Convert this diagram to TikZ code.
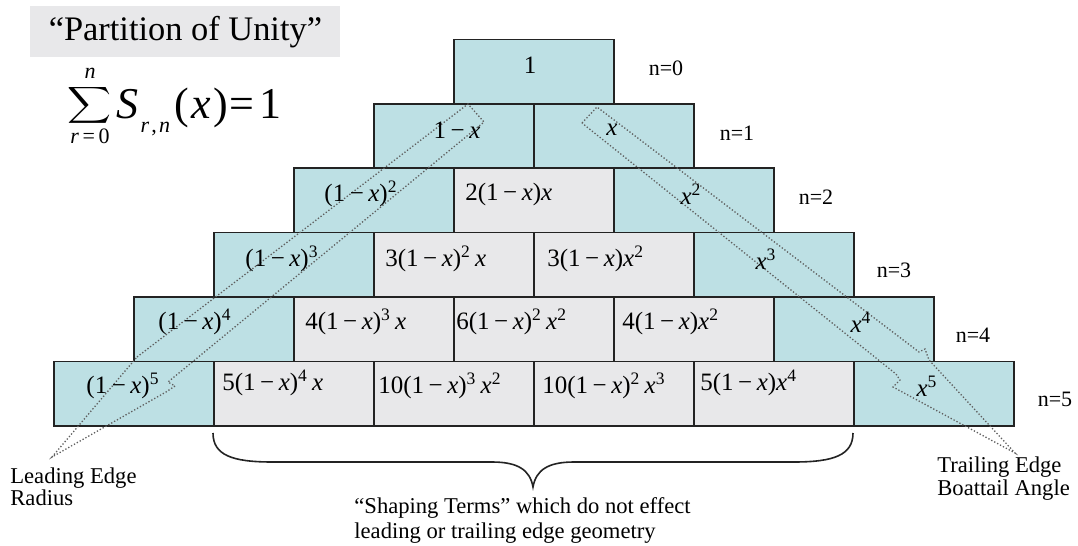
\documentclass[tikz,border=0pt]{standalone}
\usepackage{fontspec}
\setmainfont{Liberation Serif}
\usepackage{graphicx}
\definecolor{tealfill}{RGB}{189,224,228}
\definecolor{greyfill}{RGB}{232,232,234}
\definecolor{edgecol}{RGB}{35,35,35}
\definecolor{dotcol}{RGB}{95,95,95}
\newcommand{\vx}{\textit{x}}
\newcommand{\mn}{\hspace{0.18em}−\hspace{0.18em}}
\newcommand{\sps}[1]{\textsuperscript{#1}}
\begin{document}
\begin{tikzpicture}[x=0.5pt,y=-0.5pt,
  cell/.style={draw=edgecol,line width=0.8pt,minimum width=80pt,minimum height=32.2pt,inner sep=0pt,anchor=north west},
  tcell/.style={cell,fill=tealfill},
  gcell/.style={cell,fill=greyfill},
  term/.style={font=\fontsize{12.5}{14}\selectfont,inner sep=0pt},
  gterm/.style={term,anchor=west},
  nlab/.style={font=\fontsize{11}{13}\selectfont,inner sep=0pt},
  lab/.style={font=\fontsize{11.3}{13}\selectfont,anchor=base west,inner sep=0pt},
  dotline/.style={draw=dotcol,densely dotted,line width=0.65pt}]
\useasboundingbox (0,0) rectangle (1078,546);

% title and formula
\node[fill=greyfill,minimum width=155pt,minimum height=25.5pt,anchor=north west,inner sep=0pt,
      font=\fontsize{17.2}{20}\selectfont] (title) at (30,6) {“Partition of Unity”};
\node[inner sep=0pt] (sig) at (90,105.5) {\resizebox*{22pt}{20.5pt}{$\displaystyle\sum$}};
\node[inner sep=0pt,font=\fontsize{11}{12}\selectfont\itshape] (supn) at (90,73) {n};
\node[inner sep=0pt,font=\fontsize{11}{12}\selectfont] (subr) at (90,136) {\textit{r}\,=\,0};
\node[inner sep=0pt,anchor=base west,font=\fontsize{22}{24}\selectfont] (sbody) at (116,119)
  {\textit{S}\hspace{0.05em}\raisebox{-0.3em}{\fontsize{11}{12}\selectfont\textit{r}\hspace{0.1em},\hspace{0.1em}\textit{n}}\hspace{0.1em}(\hspace{0.05em}\textit{x}\hspace{0.05em})\hspace{0.05em}=\hspace{0.1em}1};

% row 0
\node[tcell] (b00) at (453,38.5) {};
% row 1
\node[tcell] (b10) at (373,102.9) {};
\node[tcell] (b11) at (533,102.9) {};
% row 2
\node[tcell] (b20) at (293,167.3) {};
\node[gcell] (b21) at (453,167.3) {};
\node[tcell] (b22) at (613,167.3) {};
% row 3
\node[tcell] (b30) at (213,231.7) {};
\node[gcell] (b31) at (373,231.7) {};
\node[gcell] (b32) at (533,231.7) {};
\node[tcell] (b33) at (693,231.7) {};
% row 4
\node[tcell] (b40) at (133,296.1) {};
\node[gcell] (b41) at (293,296.1) {};
\node[gcell] (b42) at (453,296.1) {};
\node[gcell] (b43) at (613,296.1) {};
\node[tcell] (b44) at (773,296.1) {};
% row 5
\node[tcell] (b50) at (53,360.5) {};
\node[gcell] (b51) at (213,360.5) {};
\node[gcell] (b52) at (373,360.5) {};
\node[gcell] (b53) at (533,360.5) {};
\node[gcell] (b54) at (693,360.5) {};
\node[tcell] (b55) at (853,360.5) {};

% dotted edge outlines
\draw[dotline] (137,357) -- (468,104) -- (484,122) -- (168,382) -- (175,386) -- (166,392) -- (52,457) -- cycle;
\draw[dotline] (582,123) -- (597,107) -- (919,352) -- (925,349) -- (929,360) -- (1015,453) -- (893,387) -- (900,380) -- (896,374) -- cycle;

% terms
\node[term] (t00) at (530,65) {1};
\node[term] (t10) at (457,130) {1\mn\vx};
\node[term] (t11) at (612,130) {\vx};
\node[term] (t20) at (361,194) {(1\mn\vx)\sps{2}};
\node[gterm] (t21) at (465,194) {2(1\mn\vx)\vx};
\node[term] (t22) at (691,194) {\vx\sps{2}};
\node[term] (t30) at (282,259) {(1\mn\vx)\sps{3}};
\node[gterm] (t31) at (385,259) {3(1\mn\vx)\sps{2}\,\vx};
\node[gterm] (t32) at (547,259) {3(1\mn\vx)\vx\sps{2}};
\node[term] (t33) at (766,259) {\vx\sps{3}};
\node[term] (t40) at (195,322) {(1\mn\vx)\sps{4}};
\node[gterm] (t41) at (305,322) {4(1\mn\vx)\sps{3}\,\vx};
\node[gterm] (t42) at (456,322) {6(1\mn\vx)\sps{2}\,\vx\sps{2}};
\node[gterm] (t43) at (622,322) {4(1\mn\vx)\vx\sps{2}};
\node[term] (t44) at (861,322) {\vx\sps{4}};
\node[term] (t50) at (123,386) {(1\mn\vx)\sps{5}};
\node[gterm] (t51) at (222,383) {5(1\mn\vx)\sps{4}\,\vx};
\node[gterm] (t52) at (378,386) {10(1\mn\vx)\sps{3}\,\vx\sps{2}};
\node[gterm] (t53) at (542,386) {10(1\mn\vx)\sps{2}\,\vx\sps{3}};
\node[gterm] (t54) at (700,383) {5(1\mn\vx)\vx\sps{4}};
\node[term] (t55) at (927,386) {\vx\sps{5}};

% n labels
\node[nlab] (n0) at (666,68) {n=0};
\node[nlab] (n1) at (737,133) {n=1};
\node[nlab] (n2) at (816,197) {n=2};
\node[nlab] (n3) at (894,270) {n=3};
\node[nlab] (n4) at (973,335) {n=4};
\node[nlab] (n5) at (1055,399) {n=5};

% brace
\draw[draw=edgecol,line width=0.8pt] (213,433) .. controls (213,455) and (232,462) .. (272,462)
  -- (492,462) .. controls (518,462) and (530,470) .. (533,487)
  .. controls (536,470) and (548,462) .. (574,462) -- (794,462)
  .. controls (834,462) and (853,455) .. (853,433);

% labels
\node[lab] (lead1) at (10,483) {Leading Edge};
\node[lab] (lead2) at (10,505) {Radius};
\node[lab] (trail1) at (937,472) {Trailing Edge};
\node[lab] (trail2) at (937,495) {Boattail Angle};
\node[lab] (shape1) at (354,513) {“Shaping Terms” which do not effect};
\node[lab] (shape2) at (354,538) {leading or trailing edge geometry};
\end{tikzpicture}
\end{document}
